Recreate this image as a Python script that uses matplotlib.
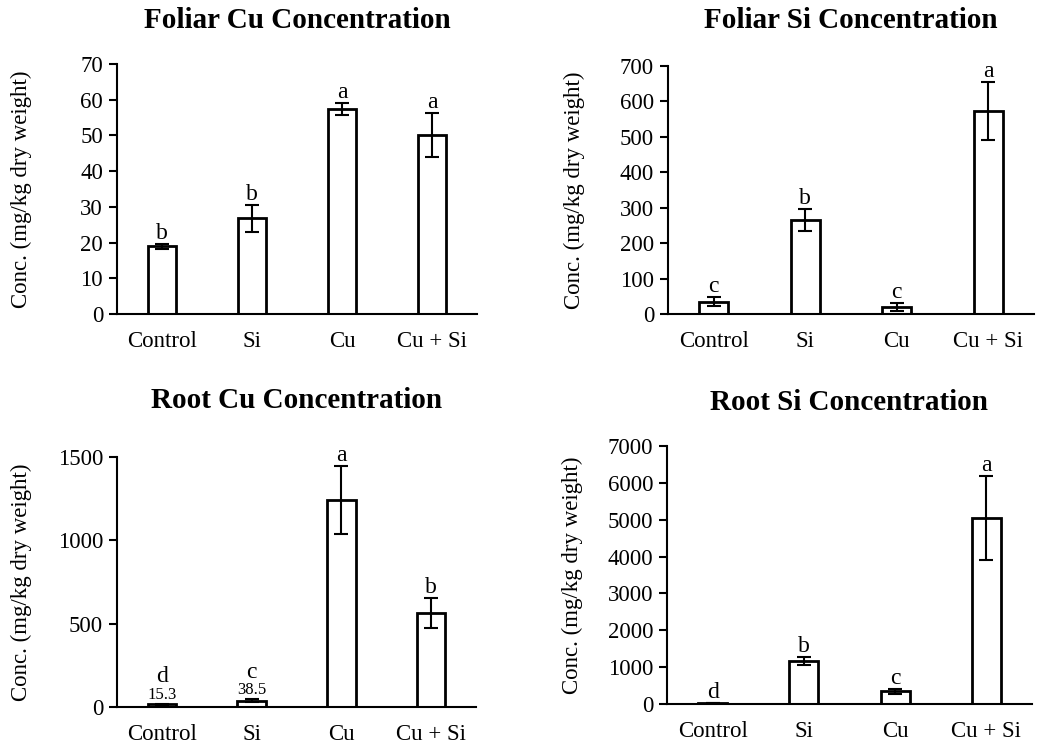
import matplotlib
matplotlib.use('Agg')
import matplotlib.pyplot as plt

treatments = ["Control", "Si", "Cu", "Cu + Si"]

foliar_cu = [19.0, 26.8, 57.4, 50.2]
foliar_cu_err = [0.7, 3.8, 1.7, 6.2]
foliar_cu_letters = ["b", "b", "a", "a"]

foliar_si = [35, 265, 20, 572]
foliar_si_err = [12, 32, 12, 82]
foliar_si_letters = ["c", "b", "c", "a"]

root_cu = [15.3, 38.5, 1240, 565]
root_cu_err = [3, 8, 205, 90]
root_cu_letters = ["d", "c", "a", "b"]
root_cu_values = ["15.3", "38.5", "", ""]

root_si = [20, 1170, 340, 5060]
root_si_err = [5, 100, 80, 1140]
root_si_letters = ["d", "b", "c", "a"]

plt.rcParams['font.family'] = ['Liberation Serif', 'DejaVu Serif']

fig = plt.figure(figsize=(10.4, 7.45), dpi=100)

# title, values, errors, letters, value labels, axes rect, ymax, tick step, title y, ylabel x
panels = [
    ("Foliar Cu Concentration", foliar_cu, foliar_cu_err, foliar_cu_letters, None,
     [0.1125, 0.5785, 0.3462, 0.3356], 70, 10, 0.973, -0.236),
    ("Foliar Si Concentration", foliar_si, foliar_si_err, foliar_si_letters, None,
     [0.6423, 0.5785, 0.352, 0.333], 700, 100, 0.973, -0.227),
    ("Root Cu Concentration", root_cu, root_cu_err, root_cu_letters, root_cu_values,
     [0.1125, 0.0510, 0.3452, 0.3356], 1500, 500, 0.462, -0.236),
    ("Root Si Concentration", root_si, root_si_err, root_si_letters, None,
     [0.6413, 0.0550, 0.351, 0.3463], 7000, 1000, 0.46, -0.23),
]

for title, vals, errs, letters, vlabels, rect, ymax, step, ty, lx in panels:
    ax = fig.add_axes(rect)
    x = range(len(treatments))
    ax.bar(x, vals, width=0.32, color='white', edgecolor='black', linewidth=2,
           yerr=errs, capsize=5, error_kw={'elinewidth': 1.5, 'capthick': 1.5})
    for i, (v, e, lab) in enumerate(zip(vals, errs, letters)):
        top = v + e
        if vlabels and vlabels[i]:
            ax.annotate(vlabels[i], (i, top), xytext=(0, 1), textcoords='offset points',
                        ha='center', va='bottom', fontsize=12)
            ax.annotate(lab, (i, top), xytext=(0, 12), textcoords='offset points',
                        ha='center', va='bottom', fontsize=17)
        else:
            ax.annotate(lab, (i, top), xytext=(0, 0), textcoords='offset points',
                        ha='center', va='bottom', fontsize=17)

    ax.set_xlim(-0.5, 3.5)
    ax.set_ylim(0, ymax)
    ax.set_yticks(range(0, ymax + 1, step))
    ax.set_xticks(list(x))
    ax.set_xticklabels(treatments)
    ax.tick_params(axis='x', length=0, pad=12, labelsize=16.5)
    ax.tick_params(axis='y', length=6, width=1.5, direction='out', pad=4, labelsize=16.5)
    ax.spines['top'].set_visible(False)
    ax.spines['right'].set_visible(False)
    ax.spines['left'].set_linewidth(1.5)
    ax.spines['bottom'].set_linewidth(1.5)
    ax.set_ylabel("Conc. (mg/kg dry weight)", fontsize=16.5)
    ax.yaxis.set_label_coords(lx, 0.5)
    cx = rect[0] + rect[2] / 2
    fig.text(cx, ty, title, ha='center', va='center', fontsize=21, fontweight='bold')

plt.savefig("out.png", dpi=100)
plt.close(fig)
